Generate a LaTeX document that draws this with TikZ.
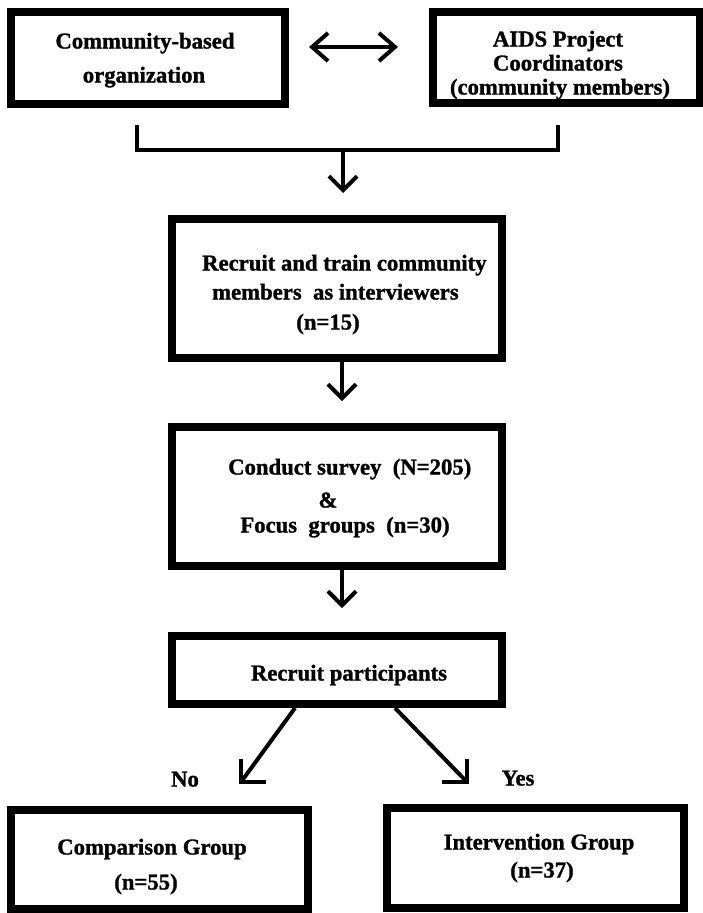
\documentclass[tikz,border=0pt]{standalone}
\usepackage{fontspec}
\setmainfont{Liberation Serif}[BoldFeatures={FakeBold=1.2}]
\usetikzlibrary{arrows.meta}
\begin{document}
\begin{tikzpicture}[x=1pt,y=-1pt,
  box/.style={draw, rectangle, line width=8pt, line join=miter, inner sep=0pt},
  txt/.style={font=\fontsize{22.7}{26}\selectfont\bfseries, inner sep=0pt, text height=15pt, text depth=4pt},
  conn/.style={line width=4pt, line join=miter},
  arr/.style={conn, -{Straight Barb[length=14pt, width=28pt]}},
  darr/.style={conn, {Straight Barb[length=16pt, width=28pt]}-{Straight Barb[length=16pt, width=28pt]}}
]
\useasboundingbox (0,0) rectangle (703,913);
% boxes
\node[box, minimum width=274pt, minimum height=92pt] (box1) at (148,58) {};
\node[box, minimum width=267pt, minimum height=91pt] (box2) at (566.5,57.5) {};
\node[box, minimum width=330pt, minimum height=139pt] (box3) at (337,288.5) {};
\node[box, minimum width=330pt, minimum height=139pt] (box4) at (337,496.5) {};
\node[box, minimum width=330pt, minimum height=68pt] (box5) at (337,670) {};
\node[box, minimum width=297pt, minimum height=99pt] (box6) at (159.5,859.5) {};
\node[box, minimum width=297pt, minimum height=100pt] (box7) at (535.5,858) {};
% texts
\node[txt] (t1a) at (145,43) {Community-based};
\node[txt] (t1b) at (144,77) {organization};
\node[txt] (t2a) at (558,41) {AIDS Project};
\node[txt] (t2b) at (558,65) {Coordinators};
\node[txt] (t2c) at (560,89) {(community members)};
\node[txt, anchor=west] (t3a) at (202,265) {Recruit and train community};
\node[txt, anchor=west] (t3b) at (212,294) {members\ \ as interviewers};
\node[txt] (t3c) at (328,324) {(n=15)};
\node[txt, anchor=west] (t4a) at (228,469) {Conduct survey\ \ (N=205)};
\node[txt] (t4b) at (328,502) {\&};
\node[txt] (t4c) at (345,527) {Focus\ \ groups\ \ (n=30)};
\node[txt] (t5) at (349,675) {Recruit participants};
\node[txt] (no) at (185,781) {No};
\node[txt] (yes) at (518,780) {Yes};
\node[txt] (t6a) at (152,849) {Comparison Group};
\node[txt] (t6b) at (146,884) {(n=55)};
\node[txt] (t7a) at (539,844) {Intervention Group};
\node[txt] (t7b) at (542,872) {(n=37)};
% coordinates
\coordinate (dy) at (0,47);
\coordinate (bl) at (137,125);
\coordinate (br) at (558,125);
\coordinate (bh) at (343,150);
\coordinate (ax) at (342,0);
\coordinate (sl) at (295,0);
\coordinate (sr) at (395,0);
\coordinate (tl) at (241,782);
\coordinate (tr) at (467,782);
% connectors
\draw[darr, shorten <=20pt, shorten >=31pt] (box1.east |- dy) -- (box2.west |- dy);
\draw[conn] (bl) |- (br |- bh) -- (br);
\draw[arr, shorten >=22pt] (bh) -- (box3.north -| bh);
\draw[arr, shorten >=22pt] (box3.south -| ax) -- (box4.north -| ax);
\draw[arr, shorten >=24pt] (box4.south -| ax) -- (box5.north -| ax);
\draw[conn] (box5.south -| sl) -- (tl);
\draw[conn] (tl) ++(0,-23) -- (tl) -- ++(25,0);
\draw[conn] (box5.south -| sr) -- (tr);
\draw[conn] (tr) ++(0,-23) -- (tr) -- ++(-25,0);
\end{tikzpicture}
\end{document}
